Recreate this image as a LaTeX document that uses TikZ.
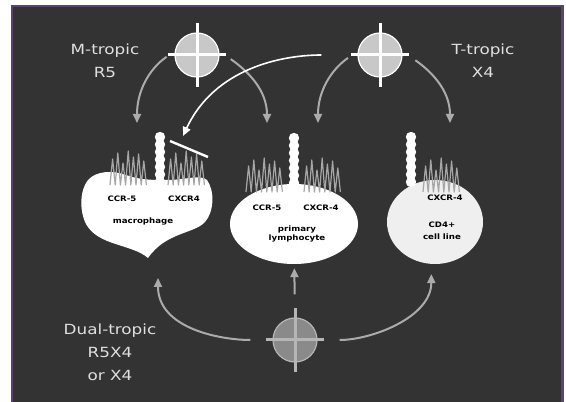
\documentclass[tikz,border=0pt]{standalone}
\usepackage{fontspec}
\newfontfamily\tagfont[FakeStretch=1.2]{DejaVu Sans}
\newfontfamily\cellfont[FakeStretch=1.15]{DejaVu Sans}
\usetikzlibrary{arrows.meta,shapes.geometric}

\definecolor{panel}{HTML}{333333}
\definecolor{rim}{HTML}{5C4272}
\definecolor{tagtext}{HTML}{E0E0E0}
\definecolor{flowgray}{HTML}{ABABAB}
\definecolor{coat}{HTML}{C8C8C8}
\definecolor{dualcoat}{HTML}{8A8A8A}
\definecolor{dualspike}{HTML}{B6B6B6}
\definecolor{helix}{HTML}{A6A6A6}
\definecolor{lineshade}{HTML}{EFEFEF}

\tikzset{
  virus/.style={circle,draw=white,fill=coat,line width=1.2pt,minimum size=44pt,inner sep=0pt},
  dualvirus/.style={virus,draw=dualspike,fill=dualcoat},
  cell/.style={ellipse,fill=white,inner sep=0pt},
  tag/.style={text=tagtext,font=\tagfont\fontsize{14}{23}\selectfont,align=center},
  rec/.style={text=black,font=\cellfont\bfseries\fontsize{7.5}{8.5}\selectfont,align=center,inner sep=0pt},
  flow/.style={draw=flowgray,line width=2pt,->},
  block/.style={draw=white,line width=2.4pt},
}

% seven-helix receptor: zigzag starting at (#1,#2)
\newcommand{\helices}[2]{%
  \draw[helix,line width=1.2pt,line join=round] (#1,#2)
    \foreach \h in {26,32,22,34,28,31,24} {-- ++(2.6,\h) -- ++(2.6,-\h)};}
% CD4 as a column of beads, top bead centred at (#1,#2)
\newcommand{\beads}[2]{%
  \foreach \k in {0,...,6} \fill[white] (#1,#2-\k*7.5) circle (5.2);}
% spike cross over a virus node
\newcommand{\spikes}[2]{%
  \draw[#2,line width=3pt] ([yshift=32pt]#1.center) -- ([yshift=-32pt]#1.center)
    ([xshift=-29pt]#1.center) -- ([xshift=29pt]#1.center);}

\begin{document}
\begin{tikzpicture}[x=1pt,y=1pt,>={Triangle[length=9pt,width=8pt]}]
\useasboundingbox (0,0) rectangle (566,402);
\fill[white] (0,0) rectangle (566,402);
\draw[rim,line width=2.5pt,fill=panel] (12,-4) rectangle (562.5,396);

% viruses
\node[virus] (mv) at (197,347) {};
\spikes{mv}{white}
\node[virus] (tv) at (380,347) {};
\spikes{tv}{white}
\node[dualvirus] (dv) at (295,62) {};
\spikes{dv}{dualspike}

\node[tag] (mlab) at (105,341) {M-tropic\\R5};
\node[tag] (tlab) at (483,341) {T-tropic\\X4};
\node[tag] (dlab) at (110,50) {Dual-tropic\\R5X4\\or X4};

% macrophage
\fill[white] (88,222) .. controls (96,231) and (112,232) .. (126,227)
  .. controls (140,222) and (152,222) .. (166,222)
  .. controls (186,222) and (200,228) .. (207,222)
  .. controls (215,211) and (214,190) .. (205,180)
  .. controls (194,168) and (166,170) .. (148,144)
  .. controls (132,158) and (98,156) .. (86,178)
  .. controls (79,192) and (80,212) .. (88,222) -- cycle;
\helices{110}{217}
\helices{168}{217}
\beads{160}{265}
\node[rec] (mac-r5) at (122,203) {CCR-5};
\node[rec] (mac-x4) at (184,203) {CXCR4};
\node[rec] (mac-name) at (143,181) {macrophage};
\draw[block] (170,261) -- (208,245);

% primary lymphocyte
\node[cell,minimum width=128pt,minimum height=80pt] (lym) at (294,178) {};
\helices{246}{210}
\helices{304}{210}
\beads{294}{264}
\node[rec] (lym-r5) at (267,194) {CCR-5};
\node[rec] (lym-x4) at (321,194) {CXCR-4};
\node[rec] (lym-name) at (297,168) {primary\\lymphocyte};

% CD4+ cell line
\node[cell,fill=lineshade,minimum width=96pt,minimum height=84pt] (cl) at (435,180) {};
\helices{423}{210}
\beads{411}{265}
\node[rec] (cl-x4) at (445,204) {CXCR-4};
\node[rec] (cl-name) at (442,171) {CD4+\\[3pt]cell line};

% arrow ends above the receptors and below the cells
\coordinate (mac-top) at (137,279);
\coordinate (mac-bar) at (183,266);
\coordinate (mac-base) at (158,124);
\coordinate (lym-left) at (267,279);
\coordinate (lym-right) at (318,279);
\coordinate (cl-top) at (450,279);

\draw [flow,shorten <=10pt] (mv.170) to[out=215,in=90] (mac-top);
\draw [flow,shorten <=14pt] (mv.10) to[out=-35,in=90] (lym-left);
\draw [flow,shorten <=12pt] (tv.170) to[out=215,in=90] (lym-right);
\draw [flow,shorten <=16pt] (tv.10) to[out=-35,in=90] (cl-top);
\draw [draw=white,line width=1.6pt,->,shorten <=36pt] (tv) to[out=180,in=65] (mac-bar);

\draw [flow,shorten <=22pt] (dv.west) to[out=180,in=-90] (mac-base);
\draw [flow,shorten <=23pt,shorten >=4pt] (dv) -- (lym);
\draw [flow,shorten <=22pt,shorten >=10pt] (dv.east) to[out=0,in=-90] (cl.265);
\end{tikzpicture}
\end{document}
